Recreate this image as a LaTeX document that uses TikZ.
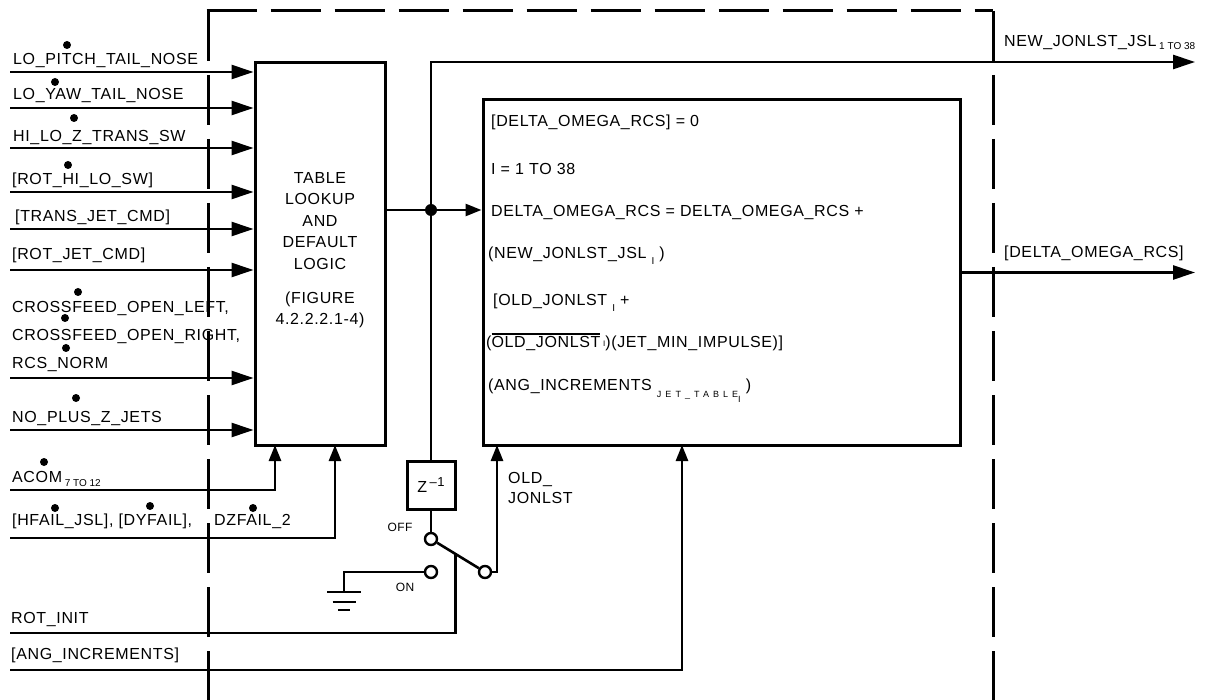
\documentclass[tikz,border=0pt]{standalone}
\usepackage{fontspec}
\setmainfont[LetterSpace=4]{Liberation Sans}
\newfontfamily\subfont{Liberation Sans}
\newfontfamily\subwide[LetterSpace=45]{Liberation Sans}
\usetikzlibrary{arrows.meta,calc}

% lowered small index text
\newcommand\sbs[2][4pt]{\raisebox{-#1}{\subfont\fontsize{10}{10}\selectfont #2}}
% bar over a name
\newcommand\ovl[1]{\vbox{\hrule height 2pt\kern 2pt\hbox{#1}}}

\begin{document}
\begin{tikzpicture}[x=1pt, y=-1pt, font=\fontsize{16}{21.5}\selectfont,
  sig/.style={line width=2.6pt},
  bigtip/.style={sig, -{Triangle[length=22pt,width=14pt]}},
  smalltip/.style={sig, -{Triangle[length=16pt,width=12pt]}},
  blk/.style={draw, line width=3pt, inner sep=0pt},
  bound/.style={line width=3pt, dash pattern=on 50pt off 14pt},
  lbl/.style={anchor=base west, inner sep=0pt},
  small/.style={font=\fontsize{12}{12}\selectfont, inner sep=0pt},
  term/.style={circle, draw, fill=white, line width=2.4pt, minimum size=12pt, inner sep=0pt}]

  \useasboundingbox (0,0) rectangle (1207,700);

  % ── Dashed boundary ─────────────────────────────────────────────────
  \draw[bound] (208,11) -- (208,700);
  \draw[bound] (206.5,11) -- (993,11);
  \draw[bound] (993,11) -- (993,700);

  % ── Blocks ──────────────────────────────────────────────────────────
  \node[blk, minimum width=130pt, minimum height=382pt] (tbl) at (320,254) {};
  \node[align=center] (tbltxt) at (320,250)
    {TABLE\\LOOKUP\\AND\\DEFAULT\\LOGIC\\[12.5pt](FIGURE\\4.2.2.2.1-4)};
  \node[blk, minimum width=477pt, minimum height=345pt] (calc) at (721.5,272.5) {};
  \node[blk, minimum size=48pt] (zdel) at (431,485)
    {Z\,\raisebox{6pt}{\fontsize{13}{13}\selectfont --1}};

  % ── Inputs to table lookup ──────────────────────────────────────────
  \foreach \y [count=\k] in {72,108,148,192,229,270,378,430} {
    \coordinate (in\k) at (10,\y);
    \draw[bigtip] (in\k) -- (in\k -| tbl.west);
  }
  \node[lbl] (lpitch)   at (13,65)  {LO\_PITCH\_TAIL\_NOSE};
  \node[lbl] (lyaw)     at (13,100) {LO\_YAW\_TAIL\_NOSE};
  \node[lbl] (lhilo)    at (13,142) {HI\_LO\_Z\_TRANS\_SW};
  \node[lbl] (lrothilo) at (12,185) {[ROT\_HI\_LO\_SW]};
  \node[lbl] (ltrans)   at (15,222) {[TRANS\_JET\_CMD]};
  \node[lbl] (lrotjet)  at (12,260) {[ROT\_JET\_CMD]};
  \node[lbl] (lxleft)   at (12,313) {CROSSFEED\_OPEN\_LEFT,};
  \node[lbl] (lxright)  at (12,341) {CROSSFEED\_OPEN\_RIGHT,};
  \node[lbl] (lrcs)     at (12,369) {RCS\_NORM};
  \node[lbl] (lnoplus)  at (12,422) {NO\_PLUS\_Z\_JETS};

  % inputs from below
  \coordinate (acin) at (10,490);
  \coordinate (acend) at (275,445);
  \draw[smalltip] (acin) -| (acend);
  \node[lbl] (lacom) at (12,482) {ACOM\,\sbs{7 TO 12}};
  \coordinate (hfin) at (10,538);
  \coordinate (hfend) at (335,445);
  \draw[smalltip] (hfin) -| (hfend);
  \node[lbl] (lfail) at (12,525) {[HFAIL\_JSL], [DYFAIL],};
  \node[lbl] (ldz)   at (214,525) {DZFAIL\_2};

  % rate dots over the names
  \foreach \p in {(67,45),(55,82),(74,118),(68,165),(78,292),(65,318),
                  (66,348),(76,398),(44,462),(55,508),(150,506),(253,508)}
    \fill \p circle (4pt);

  % ── Table output, new jet list ──────────────────────────────────────
  \coordinate (jn) at (431,210);
  \draw[smalltip] (tbl.east |- jn) -- (jn -| calc.west);
  \fill (jn) circle (6pt);
  \coordinate (out1) at (1195,62);
  \draw[bigtip] (zdel.north) |- (out1);
  \node[lbl] (lnew) at (1004,47) {NEW\_JONLST\_JSL\,\sbs[3pt]{1 TO 38}};

  % ── Rate sum output ─────────────────────────────────────────────────
  \coordinate (out2) at (1195,272.5);
  \draw[bigtip] (calc.east) -- (out2);
  \node[lbl] (lomega) at (1004,258) {[DELTA\_OMEGA\_RCS]};

  % equations inside the block
  \node[lbl] (eq1) at (491,127) {[DELTA\_OMEGA\_RCS] = 0};
  \node[lbl] (eq2) at (491,175) {I = 1 TO 38};
  \node[lbl] (eq3) at (491,217) {DELTA\_OMEGA\_RCS = DELTA\_OMEGA\_RCS +};
  \node[lbl] (eq4) at (488,259) {(NEW\_JONLST\_JSL\ \sbs[6pt]{I}\ )};
  \node[lbl] (eq5) at (493,306) {[OLD\_JONLST\ \sbs[6pt]{I}\ +};
  \node[lbl] (eq6) at (486,348)
    {(\ovl{OLD\_JONLST}\,\raisebox{1pt}{\subfont\fontsize{8}{8}\selectfont I})(JET\_MIN\_IMPULSE)]};
  \node[lbl] (eq7) at (488,391)
    {(ANG\_INCREMENTS\ \raisebox{-6pt}{\subwide\fontsize{9}{9}\selectfont JET\_TABLE\raisebox{-6pt}{\subfont I}}\ )};

  % ── Delay and init switch ───────────────────────────────────────────
  \node[term] (toff) at (431,539) {};
  \node[term] (ton)  at (431,572) {};
  \node[term] (tcom) at (485,572) {};
  \draw[sig] (zdel.south) -- (toff);
  \draw[sig] (toff) -- (tcom);
  \node[small] (loff) at (400,527) {OFF};
  \node[small] (lon)  at (405,587) {ON};
  \coordinate (oldin) at (497,445);
  \draw[smalltip] (tcom) -| (oldin);
  \node[lbl] (lold1) at (508,483) {OLD\_};
  \node[lbl] (lold2) at (508,503) {JONLST};

  % ground on the ON contact
  \coordinate (gnd) at (344,592);
  \draw[sig] (ton) -| (gnd);
  \draw[sig] ($(gnd)+(-17,0)$) -- ($(gnd)+(17,0)$);
  \draw[sig] ($(gnd)+(-11.5,10)$) -- ($(gnd)+(11.5,10)$);
  \draw[sig] ($(gnd)+(-6,18)$) -- ($(gnd)+(6,18)$);

  % switch drive
  \coordinate (rin) at (10,633);
  \coordinate (armpt) at ($(toff)!0.45!(tcom)$);
  \draw[sig] (rin) -| (armpt);
  \node[lbl] (lrotinit) at (11,623) {ROT\_INIT};

  % ── Angular increments ──────────────────────────────────────────────
  \coordinate (ain) at (10,670);
  \coordinate (angend) at (682,445);
  \draw[smalltip] (ain) -| (angend);
  \node[lbl] (lang) at (11,659) {[ANG\_INCREMENTS]};

\end{tikzpicture}
\end{document}
